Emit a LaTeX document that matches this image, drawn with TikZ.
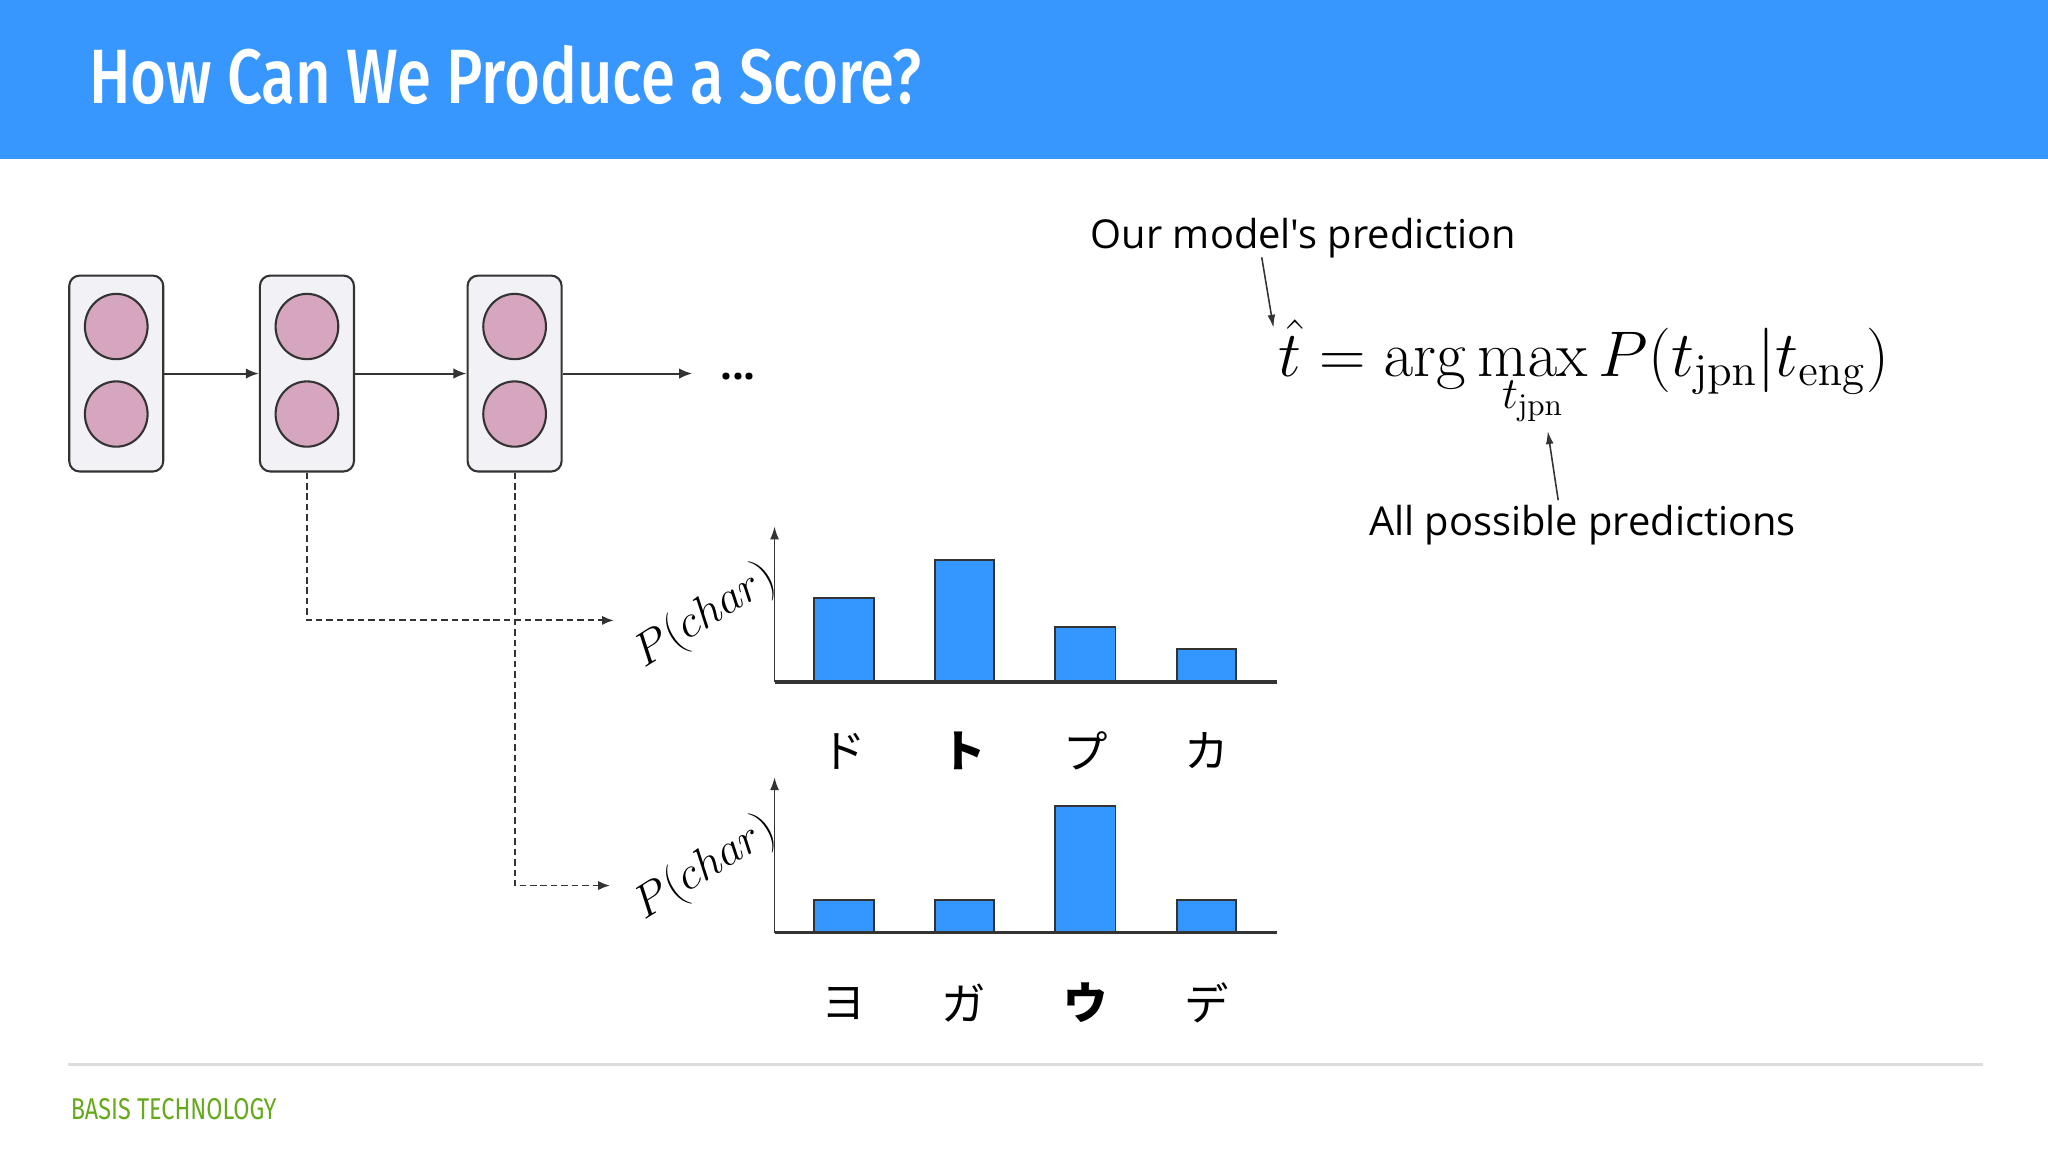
\documentclass[tikz,border=0pt]{standalone}
\usepackage[no-math]{fontspec}
\setmainfont{Open Sans}
\newfontfamily\annfont{Open Sans}[Ligatures=TeXOff]
\newfontfamily\titlefont{Fira Sans}
\newfontfamily\titlemed{Fira Sans}[UprightFont=* Medium]
\newfontfamily\jpfont{Noto Sans CJK JP}
\usetikzlibrary{arrows.meta,shapes.geometric}
\definecolor{hdrblue}{RGB}{55,151,255}
\definecolor{barblue}{RGB}{52,150,255}
\definecolor{cellfill}{RGB}{242,242,246}
\definecolor{dotpink}{RGB}{213,166,190}
\definecolor{ink}{RGB}{51,51,51}
\definecolor{basisgreen}{RGB}{102,170,28}
\definecolor{footline}{RGB}{220,220,222}
\tikzset{
  cell/.style={draw=ink, line width=1.6pt, fill=cellfill, rounded corners=8pt, minimum width=72pt, minimum height=150pt, inner sep=0pt},
  unit/.style={draw=ink, line width=1.6pt, fill=dotpink, ellipse, minimum width=48pt, minimum height=50pt, inner sep=0pt},
  flow/.style={draw=ink, line width=1.6pt, -{Latex[length=10pt,width=8pt]}},
  dflow/.style={draw=ink, line width=1.4pt, dash pattern=on 5pt off 3pt, -{Latex[length=9pt,width=7pt]}},
  note/.style={draw=ink, line width=1.2pt, -{Latex[length=10pt,width=6pt]}},
  bar/.style={draw=ink, line width=1.4pt, fill=barblue},
  axis/.style={draw=ink, line width=1.4pt, -{Latex[length=10pt,width=7pt]}},
  base/.style={draw=ink, line width=2.8pt},
  kana/.style={font=\jpfont\fontsize{34}{40}\selectfont, inner sep=0pt},
  plabel/.style={rotate=32, inner sep=0pt},
  ann/.style={font=\annfont\fontsize{30.5}{36}\selectfont, inner sep=0pt, anchor=base west}
}
\begin{document}
\begin{tikzpicture}[x=1pt,y=-1pt]
\useasboundingbox (0,0) rectangle (1568,882);
\fill[white] (0,0) rectangle (1568,882);
% header
\fill[hdrblue] (0,0) rectangle (1568,122);
\node[anchor=base west, inner sep=0pt, text=white] (title) at (68,79)
  {\scalebox{0.80}[1]{\titlemed\fontsize{59}{66}\selectfont How Can We Produce a Score?}};
% RNN cells
\node[cell] (c1) at (89,286) {};
\node[cell] (c2) at (235,286) {};
\node[cell] (c3) at (394,286) {};
\foreach \c/\x in {c1/89,c2/235,c3/394}{
  \node[unit] (\c u) at (\x,250) {};
  \node[unit] (\c d) at (\x,317) {};
}
\coordinate (cont) at (530,286);
\node[inner sep=0pt, font=\bfseries\fontsize{32}{34}\selectfont] (dots) at (565,288) {...};
\draw[flow] (c1.east) -- (c2.west);
\draw[flow] (c2.east) -- (c3.west);
\draw[flow] (c3.east) -- (cont);
% dashed connectors
\coordinate (t1) at (470,475);
\coordinate (t2) at (467,678);
\draw[dflow] (c2.south) |- (t1);
\draw[dflow] (c3.south) |- (t2);
% chart 1
\coordinate (o1) at (593,522);
\coordinate (y1) at (593,403);
\coordinate (x1) at (978,522);
\draw[axis] (o1) -- (y1);
\draw[bar] (623,522) rectangle (669,458);
\draw[bar] (716,522) rectangle (761,429);
\draw[bar] (808,522) rectangle (854,480);
\draw[bar] (901,522) rectangle (946,497);
\draw[base] (o1) -- (x1);
\node[plabel] (p1) at (540,472) {\scalebox{1.7}{\fontsize{20}{24}\selectfont $P(char)$}};
\node[kana] (k11) at (646,575) {ド};
\node[kana] (k12) at (738,575) {\bfseries ト};
\node[kana] (k13) at (831,575) {プ};
\node[kana] (k14) at (924,575) {カ};
% chart 2
\coordinate (o2) at (593,714);
\coordinate (y2) at (593,595);
\coordinate (x2) at (978,714);
\draw[axis] (o2) -- (y2);
\draw[bar] (623,714) rectangle (669,689);
\draw[bar] (716,714) rectangle (761,689);
\draw[bar] (808,714) rectangle (854,617);
\draw[bar] (901,714) rectangle (946,689);
\draw[base] (o2) -- (x2);
\node[plabel] (p2) at (540,665) {\scalebox{1.7}{\fontsize{20}{24}\selectfont $P(char)$}};
\node[kana] (k21) at (646,768) {ヨ};
\node[kana] (k22) at (738,768) {ガ};
\node[kana] (k23) at (831,768) {\bfseries ウ};
\node[kana] (k24) at (924,768) {デ};
% formula
\node[anchor=base west, inner sep=0pt] (eq) at (979,288)
  {\scalebox{2.38}{\fontsize{20}{24}\selectfont $\displaystyle \hat{t} = \arg\max_{t_{\mathrm{jpn}}} P(t_{\mathrm{jpn}}|t_{\mathrm{eng}})$}};
\node[ann] (ours) at (835,190) {Our model's prediction};
\node[ann] (allp) at (1048,410) {All possible predictions};
\coordinate (a1) at (966,197);
\coordinate (a2) at (975,251);
\coordinate (b1) at (1193,383);
\coordinate (b2) at (1185,330);
\draw[note] (a1) -- (a2);
\draw[note] (b1) -- (b2);
% footer
\draw[footline, line width=3pt] (52,815) -- (1518,815);
\node[anchor=base west, inner sep=0pt, text=basisgreen] (brand) at (54,857)
  {\scalebox{0.78}[1]{\titlefont\fontsize{23}{26}\selectfont BASIS TECHNOLOGY}};
\end{tikzpicture}
\end{document}
